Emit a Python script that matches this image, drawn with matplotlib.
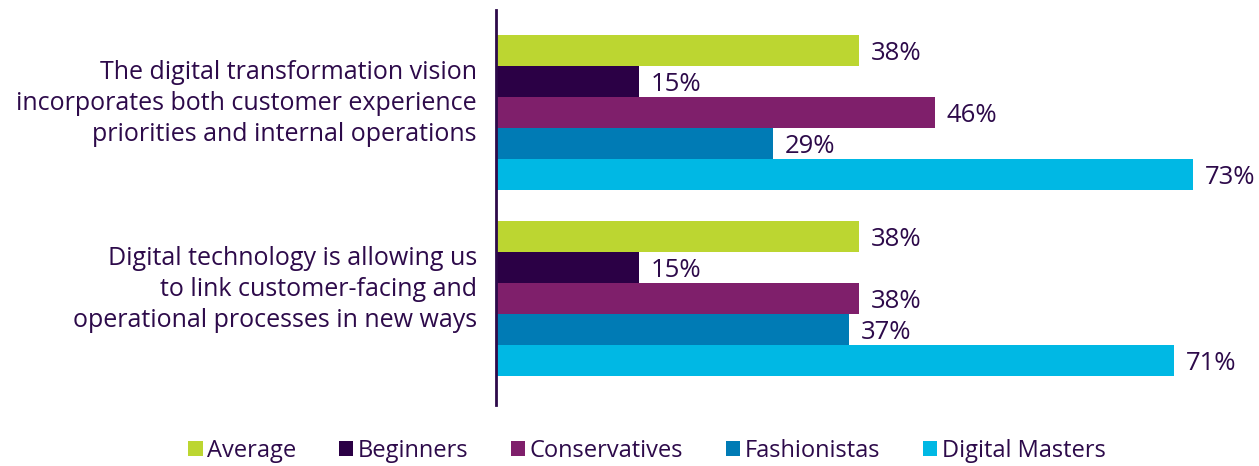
import matplotlib.pyplot as plt
import numpy as np

categories = [
    "The digital transformation vision\nincorporates both customer experience\npriorities and internal operations",
    "Digital technology is allowing us\nto link customer-facing and\noperational processes in new ways",
]
series = ["Average", "Beginners", "Conservatives", "Fashionistas", "Digital Masters"]
colors = ["#bcd631", "#2b0045", "#7f1f6b", "#007bb5", "#00b8e4"]
values = [
    [38, 15, 46, 29, 73],
    [38, 15, 38, 37, 71],
]

text_col = "#2d0a4a"
plt.rcParams["font.family"] = ["Open Sans", "DejaVu Sans"]

fig = plt.figure(figsize=(12.59, 4.66), dpi=100)
ax = fig.add_axes([496 / 1259, 61 / 466, 763 / 1259, 395 / 466])

n = len(series)
for g, vals in enumerate(values):
    base = g * (n + 1)
    for i, v in enumerate(vals):
        y = base + i
        ax.barh(y, v, height=1.0, color=colors[i], label=series[i] if g == 0 else None)
        ax.text(v + 1.2, y + 0.1, f"{v}%", va="center", ha="left",
                fontsize=18.5, color=text_col)
    ax.text(-2.0, base + 1.72, categories[g], ha="right", va="center",
            fontsize=18, color=text_col, linespacing=1.3)

ax.set_xlim(0, 763 / 9.55)
ax.set_ylim(11.44, -1.3)
ax.set_xticks([])
ax.set_yticks([])
for s in ["top", "right", "bottom"]:
    ax.spines[s].set_visible(False)
ax.spines["left"].set_color(text_col)
ax.spines["left"].set_linewidth(2)

handles, labels = ax.get_legend_handles_labels()
leg = fig.legend(handles, labels, loc="center", bbox_to_anchor=(647 / 1259, 1 - 451 / 466),
                 ncol=5, frameon=False, fontsize=17, handlelength=0.6, handleheight=0.6,
                 handletextpad=0.2, columnspacing=1.8)
for t in leg.get_texts():
    t.set_color(text_col)

fig.savefig("out.png", dpi=100)
